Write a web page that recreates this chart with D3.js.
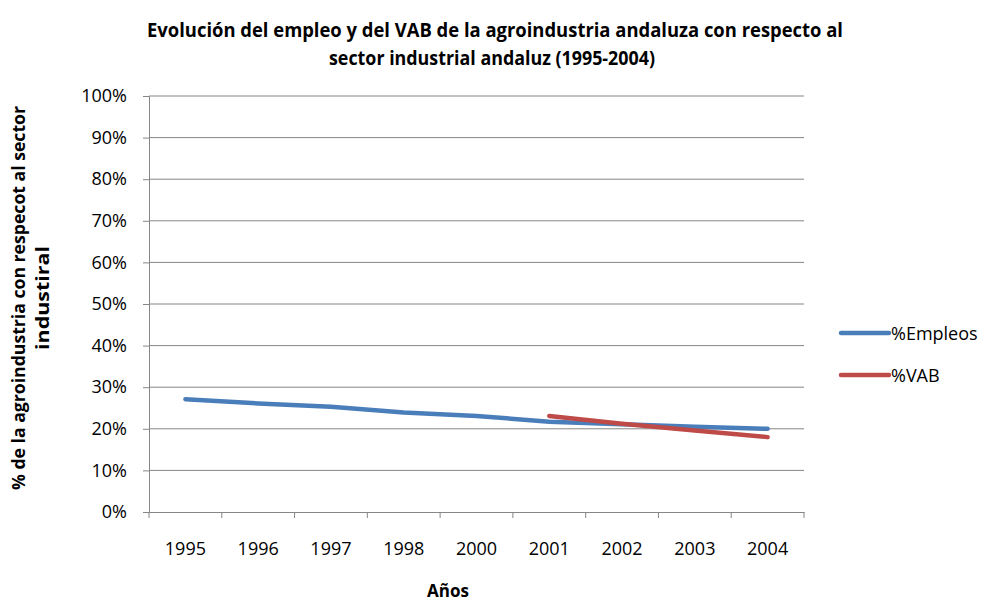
<!DOCTYPE html>
<html>
<head>
<meta charset="utf-8">
<script src="https://d3js.org/d3.v7.min.js"></script>
<style>
  body { margin: 0; background: #fff; }
  text { font-family: "Open Sans", sans-serif; fill: #000; }
</style>
</head>
<body>
<svg width="984" height="603"></svg>
<script>
// chart data
var years = ['1995', '1996', '1997', '1998', '2000', '2001', '2002', '2003', '2004'];
var empleos = [27.1, 26.1, 25.3, 23.9, 23.1, 21.7, 21.1, 20.5, 20.0];
var vab = [null, null, null, null, null, 23.1, 21.2, 19.6, 18.0];
var yTicks = [0, 10, 20, 30, 40, 50, 60, 70, 80, 90, 100];
var seriesNames = ['%Empleos', '%VAB'];
var seriesColors = ['#4A7EBB', '#BE4B48'];

var svg = d3.select('svg');
var plotLeft = 149, plotRight = 804, plotTop = 96, plotBottom = 512;

var xs = d3.scaleBand().domain(years).range([plotLeft, plotRight]);
var ys = d3.scaleLinear().domain([0, 100]).range([plotBottom, plotTop]);

// gridlines
svg.append('g')
  .selectAll('line')
  .data(yTicks.filter(function(d) { return d > 0; }))
  .enter().append('line')
    .attr('x1', plotLeft).attr('x2', plotRight)
    .attr('y1', function(d) { return ys(d); })
    .attr('y2', function(d) { return ys(d); })
    .attr('stroke', '#868686')
    .attr('stroke-width', 1);

// Y axis
var yAxis = svg.append('g')
  .attr('transform', 'translate(' + plotLeft + ',0)')
  .call(d3.axisLeft(ys).tickValues(yTicks).tickSize(6).tickPadding(16)
    .tickFormat(function(d) { return d + '%'; }));
yAxis.selectAll('path, line').attr('stroke', '#868686');
yAxis.selectAll('text').style('font-size', '18px')
  .style('font-family', '"Open Sans", sans-serif').attr('fill', '#000');

// X axis
var xAxis = svg.append('g')
  .attr('transform', 'translate(0,' + plotBottom + ')')
  .call(d3.axisBottom(xs).tickSize(0).tickPadding(30));
xAxis.select('.domain').attr('stroke', '#868686');
xAxis.selectAll('text').style('font-size', '18px')
  .style('font-family', '"Open Sans", sans-serif').attr('fill', '#000');
// tick marks between categories
svg.append('g')
  .selectAll('line')
  .data(years.concat(['end']))
  .enter().append('line')
    .attr('x1', function(d, i) { return plotLeft + i * xs.step(); })
    .attr('x2', function(d, i) { return plotLeft + i * xs.step(); })
    .attr('y1', plotBottom).attr('y2', plotBottom + 6)
    .attr('stroke', '#868686');

// lines
var line = d3.line()
  .defined(function(d) { return d.v != null; })
  .x(function(d) { return xs(d.y) + xs.bandwidth() / 2; })
  .y(function(d) { return ys(d.v); });

[empleos, vab].forEach(function(s, i) {
  svg.append('path')
    .datum(years.map(function(y, j) { return {y: y, v: s[j]}; }))
    .attr('d', line)
    .attr('fill', 'none')
    .attr('stroke', seriesColors[i])
    .attr('stroke-width', 4.5)
    .attr('stroke-linecap', 'round')
    .attr('stroke-linejoin', 'round');
});

// legend
seriesNames.forEach(function(n, i) {
  var ly = 333 + i * 42;
  svg.append('line')
    .attr('x1', 841).attr('x2', 889)
    .attr('y1', ly).attr('y2', ly)
    .attr('stroke', seriesColors[i])
    .attr('stroke-width', 4.5)
    .attr('stroke-linecap', 'round');
  svg.append('text')
    .attr('x', 891).attr('y', ly + 7)
    .style('font-size', '18px')
    .text(n);
});

// title
svg.append('text')
  .attr('x', 495).attr('y', 37)
  .style('text-anchor', 'middle').style('font-size', '19px').style('font-weight', 'bold')
  .attr('textLength', 696).attr('lengthAdjust', 'spacingAndGlyphs')
  .text('Evolución del empleo y del VAB de la agroindustria andaluza con respecto al');
svg.append('text')
  .attr('x', 492).attr('y', 65)
  .style('text-anchor', 'middle').style('font-size', '19px').style('font-weight', 'bold')
  .attr('textLength', 326).attr('lengthAdjust', 'spacingAndGlyphs')
  .text('sector industrial andaluz (1995-2004)');

// axis titles
svg.append('text')
  .attr('x', 448).attr('y', 597)
  .style('text-anchor', 'middle').style('font-size', '17px').style('font-weight', 'bold')
  .text('Años');

var yt = svg.append('text')
  .attr('transform', 'translate(25,298) rotate(-90)')
  .style('text-anchor', 'middle').style('font-size', '18px').style('font-weight', 'bold');
yt.append('tspan').attr('x', 0).attr('dy', 0)
  .attr('textLength', 384).attr('lengthAdjust', 'spacingAndGlyphs')
  .text('% de la agroindustria  con respecot al sector');
yt.append('tspan').attr('x', 0).attr('dy', 24)
  .attr('textLength', 104).attr('lengthAdjust', 'spacingAndGlyphs')
  .text('industiral');
</script>
</body>
</html>
